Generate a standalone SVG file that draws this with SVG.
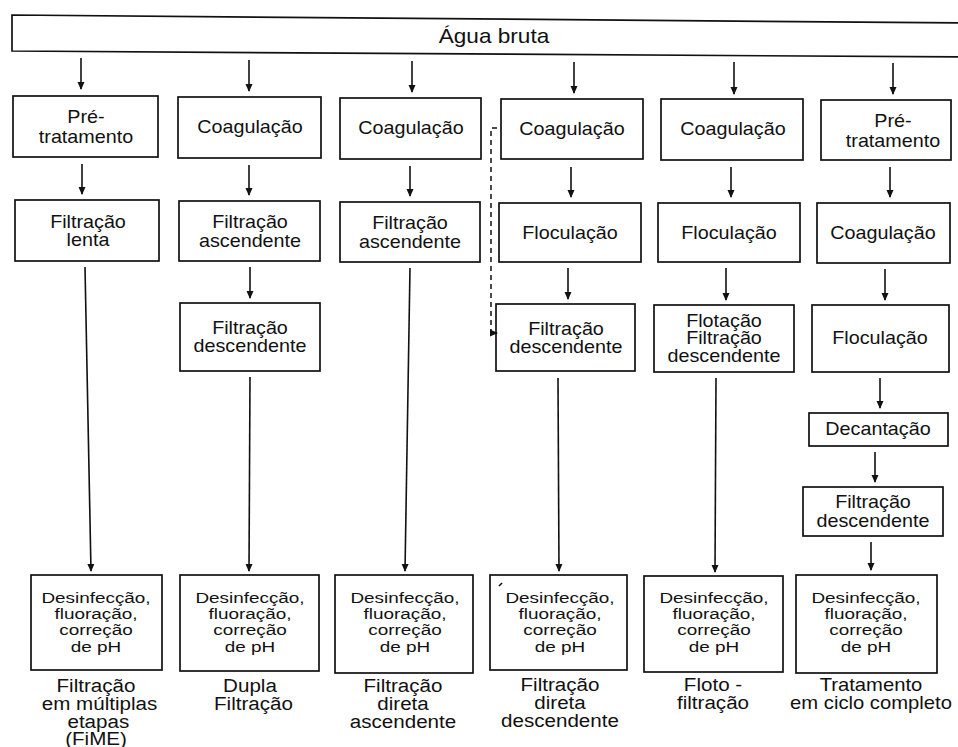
<svg xmlns="http://www.w3.org/2000/svg" width="958" height="747" viewBox="0 0 958 747">
<defs>
<marker id="ah" markerWidth="8" markerHeight="8" refX="7" refY="4" orient="auto" markerUnits="userSpaceOnUse">
<path d="M0,0.5 L8,4 L0,7.5 Z" fill="#111"/>
</marker>
<style>
.box{fill:#fff;stroke:#111;stroke-width:1.7}
.t{font-family:"Liberation Sans",Arial,sans-serif;font-size:18.8px;fill:#111;text-anchor:middle}
.b{font-family:"Liberation Sans",Arial,sans-serif;font-size:15.5px;fill:#111;text-anchor:middle}
.l{font-family:"Liberation Sans",Arial,sans-serif;font-size:17.6px;fill:#111;text-anchor:middle}
.c{stroke:#111;stroke-width:1.6;fill:none;marker-end:url(#ah)}
.d{stroke:#111;stroke-width:1.5;fill:none;stroke-dasharray:5 4}
</style>
</defs>
<rect width="958" height="747" fill="#fff"/>

<g id="agua">
<path class="box" d="M12,15 L962,23 L962,57 L12,51 Z"/>
<g transform="translate(494,0) scale(1.13,1)"><text class="t" style="font-size:20px" x="0" y="43">Água bruta</text></g>
</g>

<!-- Column 1 -->
<g id="c1r1"><rect class="box" x="13" y="96" width="145" height="61"/><g transform="translate(86,0) scale(1.05,1)"><text class="t" x="0" y="123">Pré-</text><text class="t" x="0" y="143">tratamento</text></g></g>
<g id="c1r2"><rect class="box" x="15" y="200" width="144" height="61"/><g transform="translate(88,0) scale(1.05,1)"><text class="t" x="0" y="228">Filtração</text><text class="t" x="0" y="246">lenta</text></g></g>
<g id="c1b"><rect class="box" x="31" y="575" width="131" height="95"/><g transform="translate(96,0) scale(1.22,1)"><text class="b" x="0" y="603">Desinfecção,</text><text class="b" x="0" y="619">fluoração,</text><text class="b" x="0" y="635">correção</text><text class="b" x="0" y="652">de pH</text></g></g>
<g id="c1lab"><g transform="translate(96,0) scale(1.17,1)"><text class="l" x="0" y="692">Filtração</text><text class="l" x="3" y="710.5">em múltiplas</text><text class="l" x="2" y="728">etapas</text><text class="l" x="0" y="745">(FiME)</text></g></g>

<!-- Column 2 -->
<g id="c2r1"><rect class="box" x="178" y="97" width="143" height="61"/><g transform="translate(250,0) scale(1.05,1)"><text class="t" x="0" y="133">Coagulação</text></g></g>
<g id="c2r2"><rect class="box" x="179" y="201" width="141" height="60"/><g transform="translate(250,0) scale(1.05,1)"><text class="t" x="0" y="228">Filtração</text><text class="t" x="0" y="247">ascendente</text></g></g>
<g id="c2r3"><rect class="box" x="180" y="303" width="140" height="68"/><g transform="translate(250,0) scale(1.05,1)"><text class="t" x="0" y="334">Filtração</text><text class="t" x="0" y="352">descendente</text></g></g>
<g id="c2b"><rect class="box" x="180" y="575" width="139" height="96"/><g transform="translate(250,0) scale(1.22,1)"><text class="b" x="0" y="603">Desinfecção,</text><text class="b" x="0" y="619">fluoração,</text><text class="b" x="0" y="635">correção</text><text class="b" x="0" y="652">de pH</text></g></g>
<g id="c2lab"><g transform="translate(250,0) scale(1.17,1)"><text class="l" x="0" y="692">Dupla</text><text class="l" x="3" y="710">Filtração</text></g></g>

<!-- Column 3 -->
<g id="c3r1"><rect class="box" x="340" y="98" width="141" height="61"/><g transform="translate(411,0) scale(1.05,1)"><text class="t" x="0" y="134">Coagulação</text></g></g>
<g id="c3r2"><rect class="box" x="340" y="202" width="140" height="60"/><g transform="translate(410,0) scale(1.05,1)"><text class="t" x="0" y="229">Filtração</text><text class="t" x="0" y="248">ascendente</text></g></g>
<g id="c3b"><rect class="box" x="335" y="575" width="138" height="98"/><g transform="translate(405,0) scale(1.22,1)"><text class="b" x="0" y="603">Desinfecção,</text><text class="b" x="0" y="619">fluoração,</text><text class="b" x="0" y="635">correção</text><text class="b" x="0" y="652">de pH</text></g></g>
<g id="c3lab"><g transform="translate(403,0) scale(1.17,1)"><text class="l" x="0" y="692">Filtração</text><text class="l" x="0" y="710">direta</text><text class="l" x="0" y="728">ascendente</text></g></g>

<!-- Column 4 -->
<g id="c4r1"><rect class="box" x="501" y="99" width="142" height="60"/><g transform="translate(572,0) scale(1.05,1)"><text class="t" x="0" y="135">Coagulação</text></g></g>
<g id="c4r2"><rect class="box" x="499" y="203" width="142" height="59"/><g transform="translate(570,0) scale(1.05,1)"><text class="t" x="0" y="239">Floculação</text></g></g>
<g id="c4r3"><rect class="box" x="496" y="304" width="139" height="67"/><g transform="translate(566,0) scale(1.05,1)"><text class="t" x="0" y="335">Filtração</text><text class="t" x="0" y="353">descendente</text></g></g>
<g id="c4b"><rect class="box" x="490" y="575" width="137" height="95"/><path d="M499,586 L502,583" stroke="#111" stroke-width="1.6"/><g transform="translate(560,0) scale(1.22,1)"><text class="b" x="0" y="603">Desinfecção,</text><text class="b" x="0" y="619">fluoração,</text><text class="b" x="0" y="635">correção</text><text class="b" x="0" y="652">de pH</text></g></g>
<g id="c4lab"><g transform="translate(560,0) scale(1.17,1)"><text class="l" x="0" y="691">Filtração</text><text class="l" x="0" y="709">direta</text><text class="l" x="0" y="727">descendente</text></g></g>

<!-- Column 5 -->
<g id="c5r1"><rect class="box" x="661" y="99" width="142" height="61"/><g transform="translate(733,0) scale(1.05,1)"><text class="t" x="0" y="135">Coagulação</text></g></g>
<g id="c5r2"><rect class="box" x="658" y="203" width="142" height="59"/><g transform="translate(729,0) scale(1.05,1)"><text class="t" x="0" y="239">Floculação</text></g></g>
<g id="c5r3"><rect class="box" x="654" y="305" width="140" height="67"/><g transform="translate(724,0) scale(1.05,1)"><text class="t" x="0" y="327">Flotação</text><text class="t" x="0" y="344">Filtração</text><text class="t" x="0" y="362">descendente</text></g></g>
<g id="c5b"><rect class="box" x="644" y="576" width="139" height="96"/><g transform="translate(714,0) scale(1.22,1)"><text class="b" x="0" y="603">Desinfecção,</text><text class="b" x="0" y="619">fluoração,</text><text class="b" x="0" y="635">correção</text><text class="b" x="0" y="652">de pH</text></g></g>
<g id="c5lab"><g transform="translate(713,0) scale(1.17,1)"><text class="l" x="0" y="691">Floto -</text><text class="l" x="0" y="709">filtração</text></g></g>

<!-- Column 6 -->
<g id="c6r1"><rect class="box" x="821" y="100" width="130" height="60"/><g transform="translate(893,0) scale(1.05,1)"><text class="t" x="0" y="127">Pré-</text><text class="t" x="0" y="147">tratamento</text></g></g>
<g id="c6r2"><rect class="box" x="817" y="203" width="133" height="60"/><g transform="translate(883,0) scale(1.05,1)"><text class="t" x="0" y="239">Coagulação</text></g></g>
<g id="c6r3"><rect class="box" x="812" y="305" width="137" height="67"/><g transform="translate(880,0) scale(1.05,1)"><text class="t" x="0" y="344">Floculação</text></g></g>
<g id="c6r4"><rect class="box" x="809" y="413" width="139" height="33"/><g transform="translate(878,0) scale(1.05,1)"><text class="t" x="0" y="435">Decantação</text></g></g>
<g id="c6r5"><rect class="box" x="803" y="487" width="140" height="49"/><g transform="translate(873,0) scale(1.05,1)"><text class="t" x="0" y="508">Filtração</text><text class="t" x="0" y="527">descendente</text></g></g>
<g id="c6b"><rect class="box" x="796" y="575" width="141" height="98"/><g transform="translate(866,0) scale(1.22,1)"><text class="b" x="0" y="603">Desinfecção,</text><text class="b" x="0" y="619">fluoração,</text><text class="b" x="0" y="635">correção</text><text class="b" x="0" y="652">de pH</text></g></g>
<g id="c6lab"><g transform="translate(871,0) scale(1.15,1)"><text class="l" x="0" y="691">Tratamento</text><text class="l" x="0" y="709">em ciclo completo</text></g></g>

<g id="connectors">
<line class="c" x1="81" y1="58" x2="81" y2="89"/>
<line class="c" x1="249" y1="60" x2="249" y2="91"/>
<line class="c" x1="412" y1="61" x2="412" y2="92"/>
<line class="c" x1="574" y1="62" x2="574" y2="93"/>
<line class="c" x1="734" y1="62" x2="734" y2="94"/>
<line class="c" x1="893" y1="63" x2="893" y2="94"/>
<line class="c" x1="82" y1="164" x2="82" y2="194"/>
<line class="c" x1="249" y1="165" x2="249" y2="195"/>
<line class="c" x1="410" y1="166" x2="410" y2="196"/>
<line class="c" x1="571" y1="167" x2="571" y2="197"/>
<line class="c" x1="731" y1="167" x2="731" y2="197"/>
<line class="c" x1="890" y1="167" x2="890" y2="197"/>
<line class="c" x1="250" y1="267" x2="250" y2="298"/>
<line class="c" x1="568" y1="268" x2="568" y2="299"/>
<line class="c" x1="726" y1="268" x2="726" y2="300"/>
<line class="c" x1="885" y1="269" x2="885" y2="300"/>
<line class="c" x1="880" y1="378" x2="880" y2="408"/>
<line class="c" x1="875" y1="452" x2="875" y2="482"/>
<line class="c" x1="871" y1="542" x2="871" y2="570"/>
<line class="c" x1="85" y1="267" x2="91" y2="571"/>
<line class="c" x1="250" y1="377" x2="249" y2="571"/>
<line class="c" x1="410" y1="268" x2="405" y2="571"/>
<line class="c" x1="558" y1="378" x2="559" y2="571"/>
<line class="c" x1="716" y1="378" x2="715" y2="572"/>
<path class="d" d="M497,128 L491,128 L491,333"/>
<line x1="491" y1="333" x2="497" y2="333" stroke="#111" stroke-width="1.5" marker-end="url(#ah)"/>
</g>
</svg>
